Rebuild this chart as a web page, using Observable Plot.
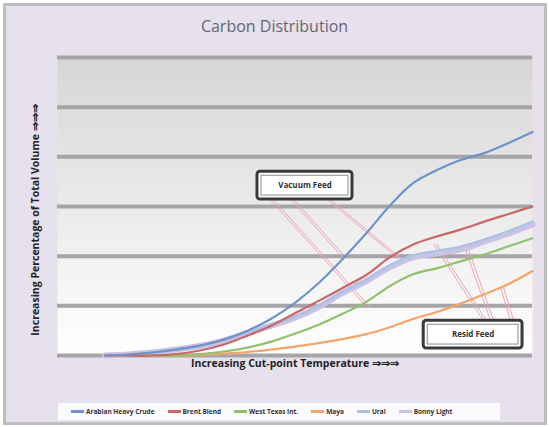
<!DOCTYPE html>
<html>
<head>
<meta charset="utf-8">
<script src="https://cdn.jsdelivr.net/npm/d3@7"></script>
<script src="https://cdn.jsdelivr.net/npm/@observablehq/plot@0.6"></script>
<style>
  body { margin: 0; background: #fff; font-family: "Open Sans", "Liberation Sans", sans-serif; }
  #wrap { position: relative; width: 549px; height: 427px; background: #fff; overflow: hidden; }
  #frame { position: absolute; left: 3px; top: 3px; width: 538px; height: 416px; border: 3px solid #bdbdc2; background: #e6e1ed; }
  #title { position: absolute; left: 0; width: 549px; top: 15px; text-align: center; font-size: 16px; color: #666670; }
  #chart { position: absolute; left: 0; top: 0; }
  #ylab { position: absolute; left: 35px; top: 220px; transform: translate(-50%, -50%) rotate(-90deg);
          white-space: nowrap; font-size: 10.5px; font-weight: bold; color: #222; }
  #legend { position: absolute; left: 58px; top: 403px; width: 442px; height: 17px; background: #fbfafd;
            display: flex; align-items: center; font-size: 6.5px; font-weight: bold; color: #333; }
  .item { display: flex; align-items: center; margin-left: 13px; }
  .sw { width: 13px; height: 3px; margin-right: 2px; }
</style>
</head>
<body>
<div id="wrap">
  <div id="frame"></div>
  <div id="title">Carbon Distribution</div>
  <div id="chart"></div>
  <div id="ylab"></div>
  <div id="legend"></div>
</div>
<script>
// ---- data ----
const xs = [10,15,20,25,30,35,40,45,50,55,60,65,70,75,80,85,90,95,100];
const seriesNames = ["Arabian Heavy Crude", "Brent Blend", "West Texas Int.", "Maya", "Ural", "Bonny Light"];
const seriesColors = ["#6f93c8", "#c9676a", "#93c06b", "#f4a56c", "#a9c3e6", "#c9c2e2"];
const blue     = [0,0.02,0.06,0.12,0.2,0.32,0.5,0.74,1.06,1.46,1.94,2.46,3.02,3.48,3.74,3.94,4.08,4.28,4.5];
const red      = [0,0,0,0.03,0.1,0.22,0.4,0.6,0.85,1.1,1.36,1.62,1.98,2.24,2.4,2.54,2.7,2.85,3.0];
const green    = [0,0,0,0,0.03,0.08,0.16,0.28,0.44,0.62,0.84,1.08,1.4,1.64,1.76,1.9,2.04,2.2,2.36];
const orange   = [0,0,0,0,0.01,0.04,0.07,0.12,0.18,0.25,0.33,0.43,0.57,0.74,0.88,1.05,1.24,1.44,1.7];
const lightBlue= [0,0.02,0.06,0.12,0.19,0.31,0.46,0.62,0.78,1.0,1.28,1.53,1.82,2.02,2.11,2.2,2.34,2.51,2.7];
const lavender = [0,0.02,0.06,0.12,0.19,0.3,0.45,0.6,0.76,0.98,1.26,1.5,1.78,1.98,2.06,2.14,2.3,2.46,2.64];
const gridValues = [0,1,2,3,4,5,6];
const xLabel = "Increasing Cut-point Temperature \u21D2\u21D2\u21D2";
const yLabel = "Increasing Percentage of Total Volume \u21D2\u21D2\u21D2";
// annotation boxes
const boxes = [
  {x1: 42.1, x2: 62.1, y1: 3.14, y2: 3.7, label: "Vacuum Feed"},
  {x1: 77.1, x2: 97.9, y1: 0.14, y2: 0.7, label: "Resid Feed"}
];
// leader lines from boxes to curves
const leaders = [
  {x1: 44.8, y1: 3.14, x2: 65.3, y2: 0.96},
  {x1: 49.1, y1: 3.14, x2: 60.2, y2: 1.96},
  {x1: 56.8, y1: 3.14, x2: 71.6, y2: 1.96},
  {x1: 89.7, y1: 0.7, x2: 79.2, y2: 2.24},
  {x1: 91.2, y1: 0.7, x2: 85.5, y2: 2.24},
  {x1: 95.4, y1: 0.7, x2: 93.3, y2: 1.36}
];

const allSeries = [blue, red, green, orange, lightBlue, lavender];
const rows = [];
allSeries.forEach((vals, i) => vals.forEach((v, j) => rows.push({x: xs[j], y: v, s: seriesNames[i]})));
const byName = n => rows.filter(r => r.s === n);
const widths = [2.2, 2.2, 2.2, 2.2, 2, 6];
const drawOrder = [5, 4, 3, 2, 1, 0];

const plot = Plot.plot({
  width: 549, height: 390,
  marginLeft: 57, marginRight: 17, marginTop: 57, marginBottom: 35,
  style: {background: "transparent", fontFamily: "Open Sans, Liberation Sans, sans-serif"},
  x: {type: "linear", domain: [0, 100], axis: null},
  y: {type: "linear", domain: [0, 6], axis: null},
  marks: [
    Plot.frame({fill: "url(#bgGrad)", stroke: null}),
    Plot.ruleY(gridValues, {stroke: "#a5a5a8", strokeWidth: 4}),
    Plot.link(leaders, {x1: "x1", y1: "y1", x2: "x2", y2: "y2", stroke: "#eba6b0", strokeWidth: 1}),
    Plot.link(leaders, {x1: "x1", y1: "y1", x2: "x2", y2: "y2", stroke: "#eba6b0", strokeWidth: 1, dx: 3}),
    ...drawOrder.map(i => Plot.line(byName(seriesNames[i]), {x: "x", y: "y", stroke: seriesColors[i], strokeWidth: widths[i], curve: "catmull-rom"})),
    Plot.rect(boxes, {x1: "x1", x2: "x2", y1: "y1", y2: "y2", fill: "#ffffff", stroke: "#3a3a3a", strokeWidth: 3, rx: 3}),
    Plot.rect(boxes, {x1: "x1", x2: "x2", y1: "y1", y2: "y2", fill: "none", stroke: "#8a8a8a", strokeWidth: 1, inset: 4}),
    Plot.text(boxes, {x: d => (d.x1 + d.x2) / 2, y: d => (d.y1 + d.y2) / 2, text: "label", fontSize: 8, fontWeight: "bold", fill: "#333"}),
    Plot.text([xLabel], {frameAnchor: "bottom", dy: 11, fontSize: 10.5, fontWeight: "bold", fill: "#222"})
  ]
});

const svg = d3.select(plot);
const defs = svg.insert("defs", ":first-child");
const grad = defs.append("linearGradient").attr("id", "bgGrad").attr("x1", 0).attr("y1", 0).attr("x2", 0).attr("y2", 1);
grad.append("stop").attr("offset", "0%").attr("stop-color", "#d6d6d8");
grad.append("stop").attr("offset", "100%").attr("stop-color", "#ffffff");
document.getElementById("chart").appendChild(plot);
document.getElementById("ylab").textContent = yLabel;

const legend = d3.select("#legend");
seriesNames.forEach((n, i) => {
  const it = legend.append("div").attr("class", "item");
  it.append("div").attr("class", "sw").style("background", seriesColors[i]);
  it.append("span").text(n);
});
</script>
</body>
</html>
